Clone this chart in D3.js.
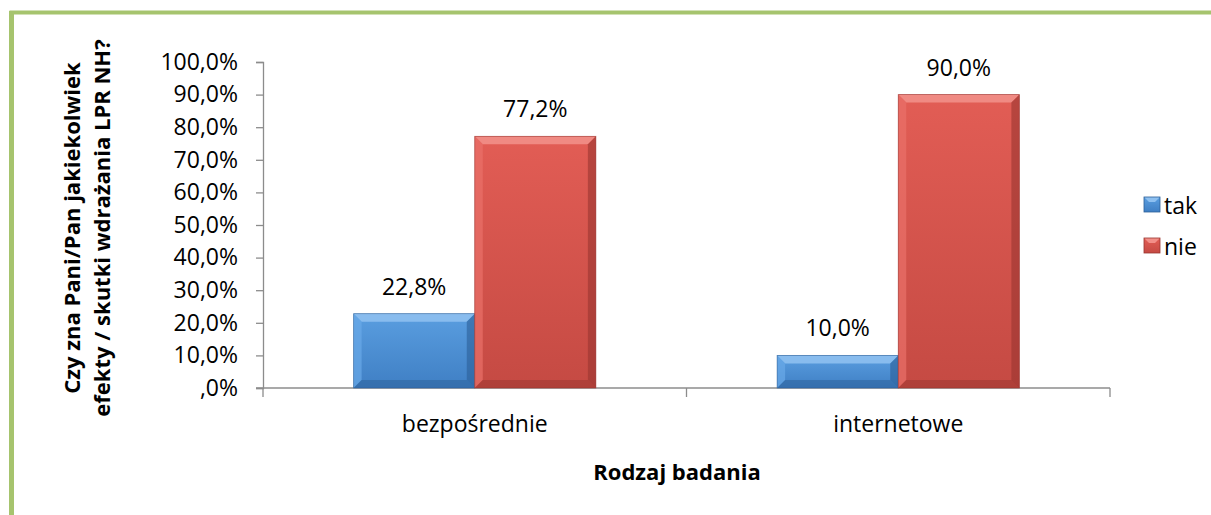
<!DOCTYPE html>
<html><head><meta charset="utf-8">
<script src="https://cdn.jsdelivr.net/npm/d3@7"></script>
<style>body{margin:0;background:#fff}svg{display:block}text{font-family:"Open Sans",sans-serif}</style>
</head><body>
<svg id="chart" width="1211" height="515"></svg>
<script>
const categories = ["bezpośrednie", "internetowe"];
const seriesNames = ["tak", "nie"];
const takValues = [22.8, 10.0];
const nieValues = [77.2, 90.0];
const yTicks = [0, 10, 20, 30, 40, 50, 60, 70, 80, 90, 100];

const svg = d3.select("#chart");

// frame
svg.append("rect").attr("x", 11.5).attr("y", 12.5).attr("width", 1230).attr("height", 560)
  .attr("fill", "none").attr("stroke", "#a6c46e").attr("stroke-width", 4);
svg.append("rect").attr("x", 9).attr("y", 11).attr("width", 5).attr("height", 520).attr("fill", "#a6c46e");

const m = {left: 263, right: 1110, top: 62, bottom: 388};
const x0 = d3.scaleBand().domain(categories).range([m.left, m.right]).paddingInner(0.428).paddingOuter(0.214);
const x1 = d3.scaleBand().domain(seriesNames).range([0, x0.bandwidth()]);
const y = d3.scaleLinear().domain([0, 100]).range([m.bottom, m.top]);

const fmt = v => (v === 0 ? "" : d3.format(".1f")(v).replace(".", ",")) + (v === 0 ? ",0%" : "%");
const FS = 23;

// y axis
const gy = svg.append("g").attr("transform", `translate(${m.left},0)`)
  .call(d3.axisLeft(y).tickValues(yTicks).tickSize(7).tickPadding(18).tickFormat(fmt));
gy.select(".domain").attr("stroke", "#8c8c8c").attr("stroke-width", 1.3);
gy.selectAll(".tick line").attr("stroke", "#8c8c8c").attr("stroke-width", 1.3);
gy.selectAll(".tick text").attr("font-size", FS).attr("fill", "#000")
  .style("font-family", "'Open Sans', sans-serif");

// x axis
const gx = svg.append("g").attr("transform", `translate(0,${m.bottom})`);
gx.append("line").attr("x1", m.left - 7).attr("x2", m.right).attr("y1", 0).attr("y2", 0)
  .attr("stroke", "#8c8c8c").attr("stroke-width", 1.3);
const bounds = [m.left, (m.left + m.right) / 2, m.right];
gx.selectAll("line.t").data(bounds).join("line").attr("class", "t")
  .attr("x1", d => d).attr("x2", d => d).attr("y1", 0).attr("y2", 9)
  .attr("stroke", "#8c8c8c").attr("stroke-width", 1.3);
gx.selectAll("text").data(categories).join("text")
  .attr("x", d => x0(d) + x0.bandwidth() / 2).attr("y", 44)
  .attr("text-anchor", "middle").attr("font-size", FS).text(d => d);

// gradients
const defs = svg.append("defs");
const pal = {
  tak: {top: "#5a9ee0", bot: "#3f7fc4", hi: "#8ec0f0", lo: "#2c5f98", side: "#6aaae8"},
  nie: {top: "#e25d55", bot: "#c54a43", hi: "#f28f88", lo: "#993530", side: "#ea716a"}
};
Object.entries(pal).forEach(([k, c]) => {
  const g = defs.append("linearGradient").attr("id", "g-" + k).attr("x1", 0).attr("y1", 0).attr("x2", 0).attr("y2", 1);
  g.append("stop").attr("offset", 0).attr("stop-color", c.top);
  g.append("stop").attr("offset", 1).attr("stop-color", c.bot);
});

const rows = categories.map((c, i) => ({cat: c, vals: [["tak", takValues[i]], ["nie", nieValues[i]]]}));
const b = 8;
rows.forEach(r => {
  r.vals.forEach(([s, v]) => {
    const bx = x0(r.cat) + x1(s), bw = x1.bandwidth();
    const ty = y(v), by = y(0), bh = by - ty;
    const c = pal[s];
    const g = svg.append("g");
    g.append("rect").attr("x", bx).attr("y", ty).attr("width", bw).attr("height", bh).attr("fill", `url(#g-${s})`);
    const e = Math.min(b, bh / 2);
    // top bevel
    g.append("polygon").attr("points", [[bx, ty], [bx + bw, ty], [bx + bw - e, ty + e], [bx + e, ty + e]].join(" "))
      .attr("fill", c.hi).attr("opacity", 0.9);
    // left bevel
    g.append("polygon").attr("points", [[bx, ty], [bx + e, ty + e], [bx + e, by - e], [bx, by]].join(" "))
      .attr("fill", c.side).attr("opacity", 0.7);
    // right bevel
    g.append("polygon").attr("points", [[bx + bw, ty], [bx + bw, by], [bx + bw - e, by - e], [bx + bw - e, ty + e]].join(" "))
      .attr("fill", c.lo).attr("opacity", 0.6);
    // bottom bevel
    g.append("polygon").attr("points", [[bx, by], [bx + e, by - e], [bx + bw - e, by - e], [bx + bw, by]].join(" "))
      .attr("fill", c.lo).attr("opacity", 0.5);
    g.append("rect").attr("x", bx).attr("y", ty).attr("width", bw).attr("height", bh)
      .attr("fill", "none").attr("stroke", c.lo).attr("stroke-width", 0.8).attr("opacity", 0.7);
    svg.append("text").attr("x", bx + bw / 2).attr("y", ty - 19).attr("text-anchor", "middle")
      .attr("font-size", FS).text(fmt(v));
  });
});

// legend
const leg = svg.append("g");
seriesNames.forEach((s, i) => {
  const ly = 197 + i * 41;
  const c = pal[s];
  leg.append("rect").attr("x", 1144).attr("y", ly).attr("width", 16).attr("height", 15).attr("fill", `url(#g-${s})`);
  leg.append("polygon").attr("points", [[1144, ly], [1160, ly], [1155, ly + 5], [1149, ly + 5]].join(" ")).attr("fill", c.hi);
  leg.append("rect").attr("x", 1144).attr("y", ly).attr("width", 16).attr("height", 15).attr("fill", "none").attr("stroke", c.lo).attr("stroke-width", 0.8);
  leg.append("text").attr("x", 1164).attr("y", ly + 17).attr("font-size", FS).text(s);
});

// axis titles
svg.append("text").attr("transform", "translate(80,228) rotate(-90)").attr("text-anchor", "middle")
  .attr("font-size", 22).attr("font-weight", "bold").text("Czy zna Pani/Pan jakiekolwiek");
svg.append("text").attr("transform", "translate(110,228) rotate(-90)").attr("text-anchor", "middle")
  .attr("font-size", 22).attr("font-weight", "bold").text("efekty / skutki wdrażania LPR NH?");
svg.append("text").attr("x", 677).attr("y", 480).attr("text-anchor", "middle")
  .attr("font-size", 22).attr("font-weight", "bold").text("Rodzaj badania");
</script>
</body></html>
